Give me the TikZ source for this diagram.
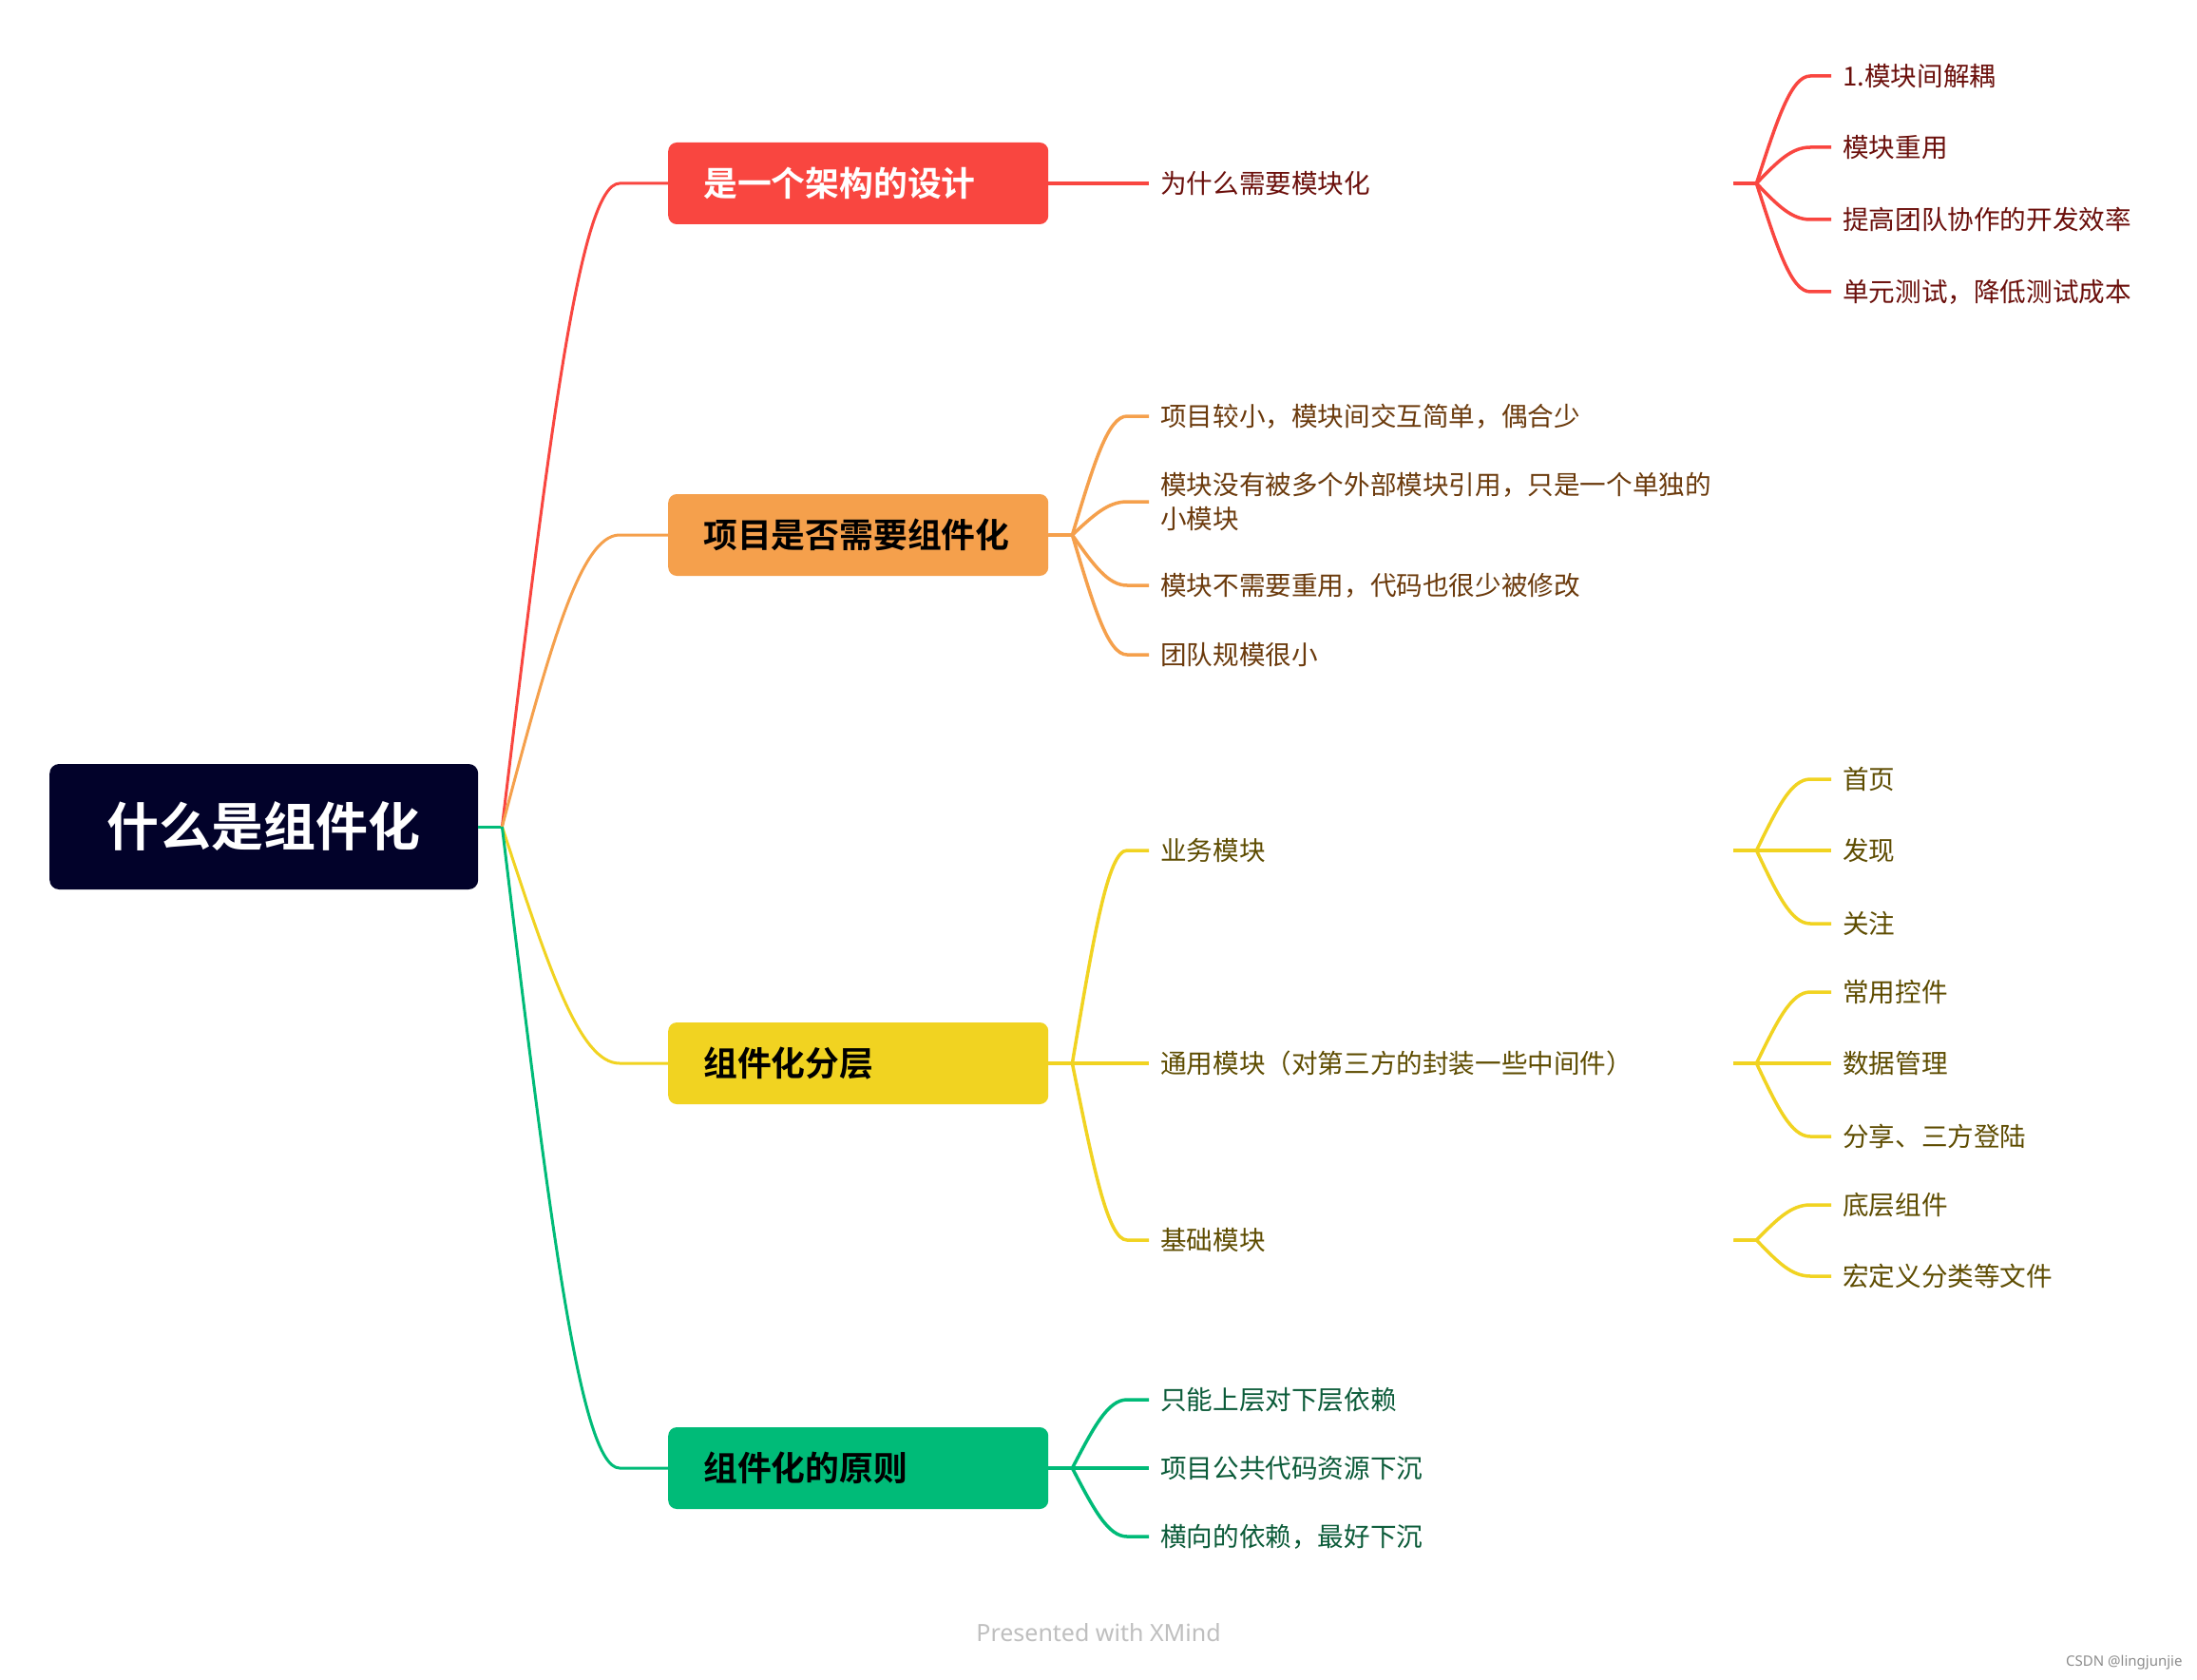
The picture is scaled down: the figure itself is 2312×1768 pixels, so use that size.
\documentclass[tikz,border=0pt]{standalone}
\usepackage{fontspec}
\setmainfont{Noto Sans CJK SC}[BoldFont={Noto Sans CJK SC Bold}]
\newfontfamily\latinfont{Noto Sans}
\usepackage{xcolor}
\usepackage{tikz}
\usetikzlibrary{calc,positioning}

\definecolor{rootc}{HTML}{02022A}
\definecolor{redc}{HTML}{F94640}
\definecolor{orangec}{HTML}{F5A04C}
\definecolor{yellowc}{HTML}{F1D321}
\definecolor{greenc}{HTML}{00BB78}
\definecolor{redtxt}{HTML}{6B0F0B}
\definecolor{orangetxt}{HTML}{6B3A0C}
\definecolor{yellowtxt}{HTML}{5E4C00}
\definecolor{greentxt}{HTML}{0B5B39}

\begin{document}
\begin{tikzpicture}[x=1pt,y=-1pt,
    rootbox/.style={fill=rootc, text=white, rounded corners=10pt, anchor=west,
      inner sep=0pt, minimum width=451pt, minimum height=132pt,
      font=\fontsize{55}{66}\selectfont\bfseries},
    mainbox/.style={fill=#1, rounded corners=9pt, anchor=west, inner xsep=37pt,
      inner ysep=0pt, text width=326pt, minimum height=86pt, align=left,
      font=\fontsize{35.8}{42}\selectfont\bfseries},
    topic/.style={text=#1, anchor=west, inner xsep=12pt, inner ysep=0pt,
      text width=591pt, align=left, font=\fontsize{27.6}{36}\selectfont},
    subtopic/.style={text=#1, anchor=west, inner xsep=12pt, inner ysep=0pt,
      font=\fontsize{27.6}{36}\selectfont},
    link/.style={draw=#1, line width=3.5pt},
  ]
  \fill[white] (0,0) rectangle (2312,1768);
  \useasboundingbox (0,0) rectangle (2312,1768);

  % central topic and the four main branches
  \node[rootbox] (root) at (52,870) {什么是组件化};
  \node[mainbox=redc, text=white] (design) at (703,193) {是一个架构的设计};
  \node[mainbox=orangec] (need) at (703,563) {项目是否需要组件化};
  \node[mainbox=yellowc] (layer) at (703,1119) {组件化分层};
  \node[mainbox=greenc] (rule) at (703,1545) {组件化的原则};

  % second level
  \node[topic=redtxt] (why) at (1209,193) {为什么需要模块化};
  \node[topic=orangetxt] (small) at (1209,438) {项目较小，模块间交互简单，偶合少};
  \node[topic=orangetxt] (alone) at (1209,528) {模块没有被多个外部模块引用，只是一个单独的\\小模块};
  \node[topic=orangetxt] (noreuse) at (1209,616) {模块不需要重用，代码也很少被修改};
  \node[topic=orangetxt] (team) at (1209,689) {团队规模很小};
  \node[topic=yellowtxt] (biz) at (1209,895) {业务模块};
  \node[topic=yellowtxt] (common) at (1209,1119) {通用模块（对第三方的封装一些中间件）};
  \node[topic=yellowtxt] (base) at (1209,1305) {基础模块};
  \node[topic=greentxt] (upper) at (1209,1473) {只能上层对下层依赖};
  \node[topic=greentxt] (sink) at (1209,1545) {项目公共代码资源下沉};
  \node[topic=greentxt] (cross) at (1209,1617) {横向的依赖，最好下沉};

  % third level
  \node[subtopic=redtxt] (decouple) at (1927,80) {1.模块间解耦};
  \node[subtopic=redtxt] (reuse) at (1927,155) {模块重用};
  \node[subtopic=redtxt] (teamwork) at (1927,231) {提高团队协作的开发效率};
  \node[subtopic=redtxt] (testcost) at (1927,307) {单元测试，降低测试成本};
  \node[subtopic=yellowtxt] (home) at (1927,820) {首页};
  \node[subtopic=yellowtxt] (find) at (1927,895) {发现};
  \node[subtopic=yellowtxt] (follow) at (1927,972) {关注};
  \node[subtopic=yellowtxt] (widget) at (1927,1044) {常用控件};
  \node[subtopic=yellowtxt] (datamgr) at (1927,1119) {数据管理};
  \node[subtopic=yellowtxt] (share) at (1927,1196) {分享、三方登陆};
  \node[subtopic=yellowtxt] (lowlevel) at (1927,1268) {底层组件};
  \node[subtopic=yellowtxt] (macro) at (1927,1343) {宏定义分类等文件};

  % links from the central topic
  \draw[link=greenc, line width=3pt] (root.east) -- ++(25,0) coordinate (hub);
  \foreach \n/\c/\y in {design/redc/193, need/orangec/563,
      layer/yellowc/1119, rule/greenc/1545}
    \draw[link=\c, line width=3pt] (hub) .. controls ($(hub)!.6!(610,\y)$)
      and (610,\y) .. (652,\y) -- (\n.west);

  % links to the second level
  \foreach \p/\c/\n/\y in {design/redc/why/193,
      need/orangec/small/438, need/orangec/alone/528,
      need/orangec/noreuse/616, need/orangec/team/689,
      layer/yellowc/biz/895, layer/yellowc/common/1119, layer/yellowc/base/1305,
      rule/greenc/upper/1473, rule/greenc/sink/1545, rule/greenc/cross/1617}
    \draw[link=\c] (\p.east) -- ++(25,0) coordinate (fork)
      .. controls ($(fork)!.6!(1166,\y)$) and (1166,\y) .. (1186,\y) -- (\n.west);

  % links to the third level
  \foreach \p/\c/\n/\y in {why/redc/decouple/80, why/redc/reuse/155,
      why/redc/teamwork/231, why/redc/testcost/307,
      biz/yellowc/home/820, biz/yellowc/find/895, biz/yellowc/follow/972,
      common/yellowc/widget/1044, common/yellowc/datamgr/1119,
      common/yellowc/share/1196,
      base/yellowc/lowlevel/1268, base/yellowc/macro/1343}
    \draw[link=\c] (\p.east) -- ++(24,0) coordinate (fork)
      .. controls ($(fork)!.6!(1885,\y)$) and (1885,\y) .. (1905,\y) -- (\n.west);

  % footer
  \node[text=black!25, font=\latinfont\bfseries\fontsize{25}{30}\selectfont]
    (credit) at (1156,1718) {Presented with XMind};
  \node[anchor=east, text=black!45, font=\latinfont\fontsize{15}{18}\selectfont]
    (mark) at (2300,1750) {CSDN @lingjunjie};
\end{tikzpicture}
\end{document}
